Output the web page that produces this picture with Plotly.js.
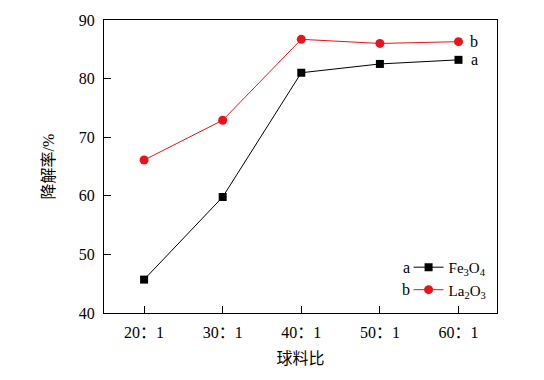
<!DOCTYPE html>
<html><head><meta charset="utf-8">
<script src="https://cdn.plot.ly/plotly-3.0.1.min.js"></script>
<style>body{margin:0;padding:0;background:#fff}#chart{width:544px;height:380px}</style>
</head><body><div id="chart"></div>
<script>
const categories = ['20：1', '30：1', '40：1', '50：1', '60：1'];
const fe3o4 = [45.7, 59.8, 81.0, 82.5, 83.2];
const la2o3 = [66.1, 72.9, 86.7, 86.0, 86.3];
const yTicks = [40, 50, 60, 70, 80, 90];

const FONT = 'Liberation Serif, Times New Roman, Noto Sans CJK SC, serif';
const RED = 'rgb(232,20,28)';

const traces = [
  {x: categories, y: fe3o4, name: 'Fe<sub>3</sub>O<sub>4</sub>', type: 'scatter', mode: 'lines+markers',
   line: {color: '#000', width: 1}, marker: {symbol: 'square', size: 8, color: '#000'}},
  {x: categories, y: la2o3, name: 'La<sub>2</sub>O<sub>3</sub>', type: 'scatter', mode: 'lines+markers',
   line: {color: RED, width: 1}, marker: {symbol: 'circle', size: 9, color: RED}}
];

const layout = {
  width: 544, height: 380,
  margin: {l: 104, r: 47, t: 20, b: 67},
  paper_bgcolor: '#fff', plot_bgcolor: '#fff',
  font: {family: FONT, size: 16, color: '#000'},
  showlegend: true,
  legend: {x: 0.775, y: 0.118, xanchor: 'left', yanchor: 'middle', bgcolor: 'rgba(0,0,0,0)',
           font: {family: FONT, size: 15}, tracegroupgap: 0, itemwidth: 30},
  xaxis: {
    type: 'category', range: [-0.51, 4.49],
    showline: true, linecolor: '#000', linewidth: 1, mirror: true,
    ticks: 'inside', ticklen: 7, tickcolor: '#000', showgrid: false, zeroline: false,
    tickfont: {family: FONT, size: 16}, ticklabelstandoff: 5,
    title: {text: '球料比', font: {family: FONT, size: 16}, standoff: 12}
  },
  yaxis: {
    range: [40, 90], tickvals: yTicks,
    showline: true, linecolor: '#000', linewidth: 1, mirror: true,
    ticks: 'inside', ticklen: 7, tickcolor: '#000', showgrid: false, zeroline: false,
    tickfont: {family: FONT, size: 16}, ticklabelstandoff: 5,
    title: {text: '降解率/%', font: {family: FONT, size: 16}, standoff: 20}
  },
  annotations: [
    {x: categories[4], y: la2o3[4], xref: 'x', yref: 'y', text: 'b', showarrow: false, xshift: 16, font: {family: FONT, size: 16}},
    {x: categories[4], y: fe3o4[4], xref: 'x', yref: 'y', text: 'a', showarrow: false, xshift: 16, font: {family: FONT, size: 16}}
  ]
};

Plotly.newPlot('chart', traces, layout, {displayModeBar: false, staticPlot: true}).then(function(gd){
  const items = gd.querySelectorAll('.legend .traces');
  const lg = gd.querySelector('.legend');
  if (!lg) return;
  const fl = gd._fullLayout;
  const tr = lg.getAttribute('transform');
  const m = /translate\(([-\d.]+)[ ,]+([-\d.]+)\)/.exec(tr);
  const lx = parseFloat(m[1]), ly = parseFloat(m[2]);
  const ann = fl.annotations.slice().map(a => ({x: a.x, y: a.y, xref: a.xref, yref: a.yref, text: a.text, showarrow: false, xshift: a.xshift, font: {family: FONT, size: 16}}));
  const letters = ['a', 'b'];
  items.forEach(function(it, i){
    const t = it.getAttribute('transform');
    const mm = /translate\(([-\d.]+)[ ,]+([-\d.]+)\)/.exec(t);
    const iy = parseFloat(mm[2]);
    const px = lx + 3;
    const py = ly + iy;
    ann.push({xref: 'paper', yref: 'paper', x: (px - fl.margin.l) / fl._size.w, y: 1 - (py - fl.margin.t) / fl._size.h,
      xanchor: 'right', yanchor: 'middle', text: letters[i], showarrow: false, font: {family: FONT, size: 16}});
  });
  Plotly.relayout(gd, {annotations: ann});
});
</script>
</body></html>
